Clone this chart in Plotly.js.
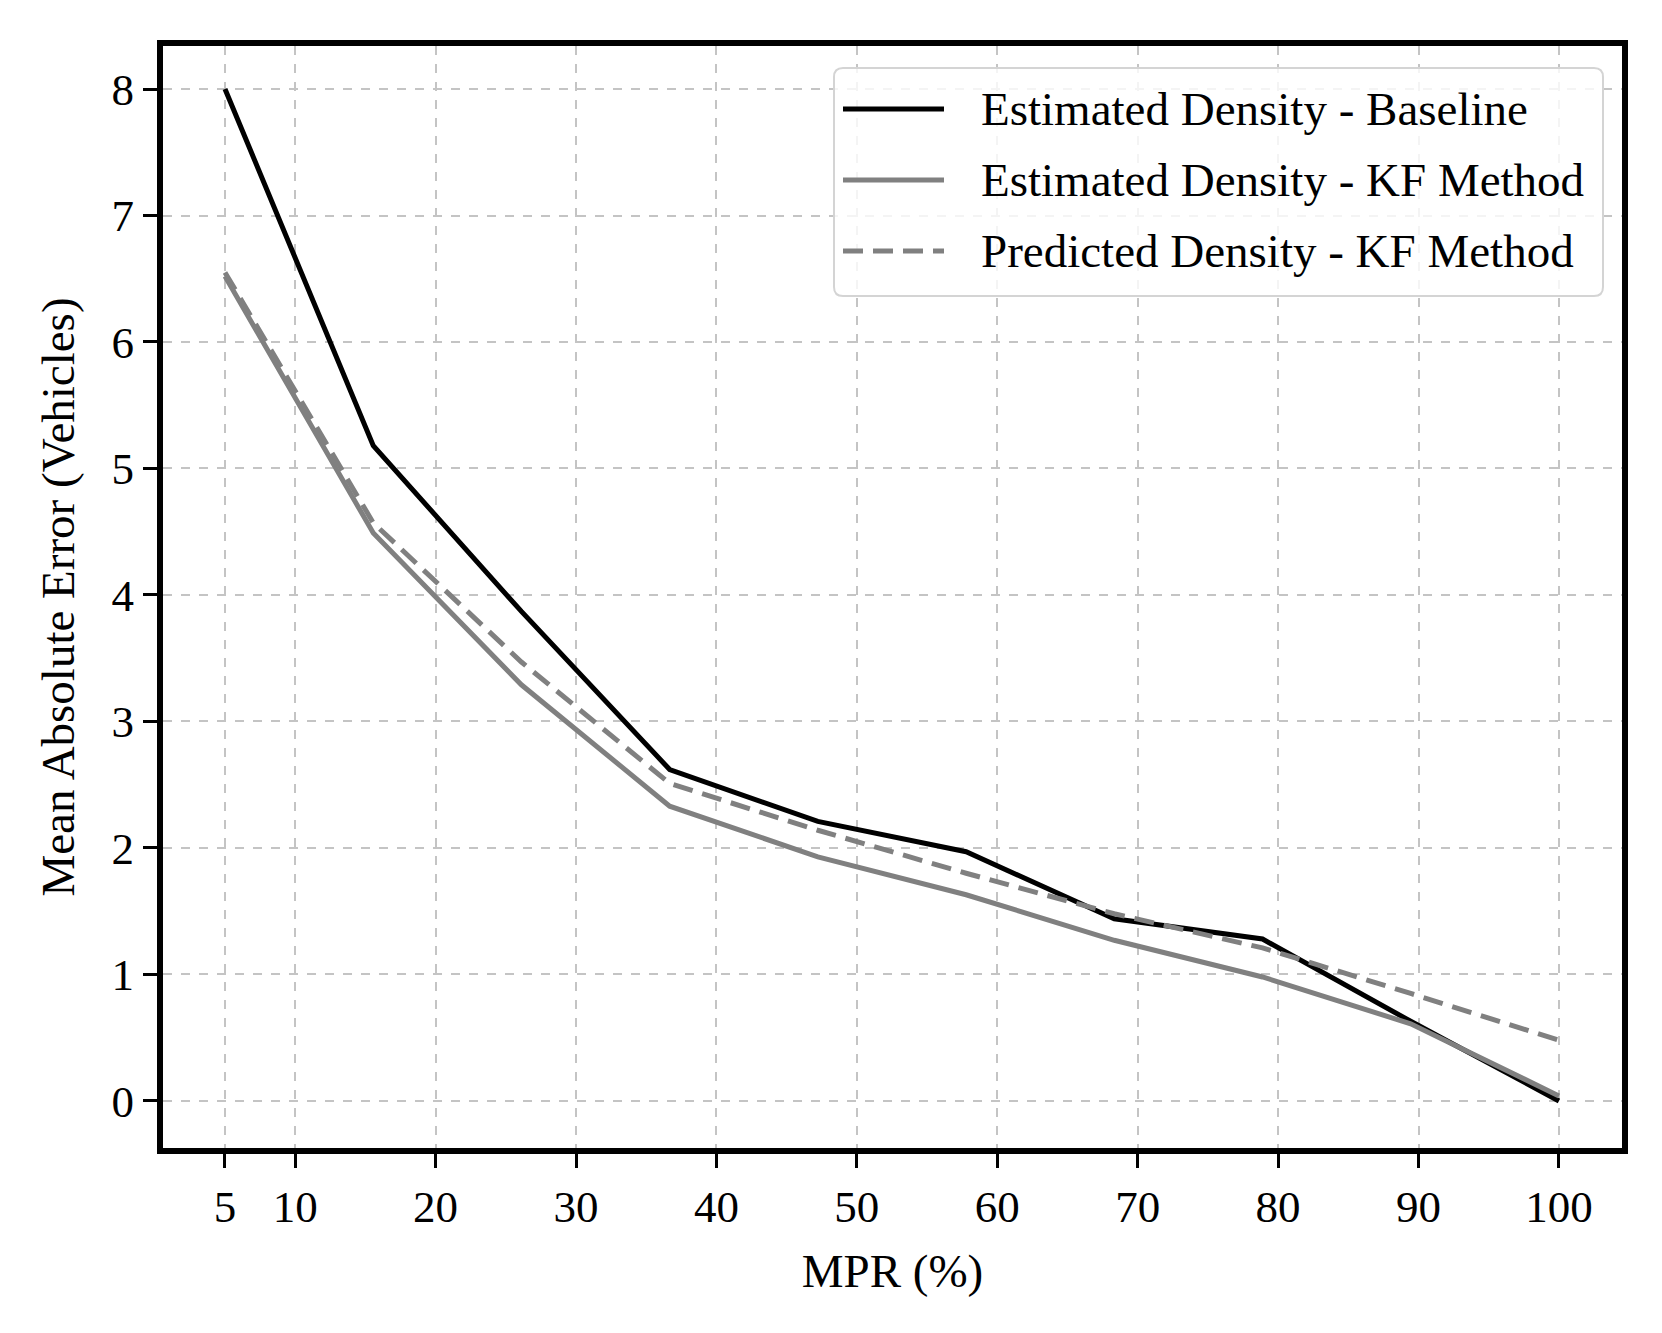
<!DOCTYPE html>
<html>
<head>
<meta charset="utf-8">
<script src="https://cdn.plot.ly/plotly-3.0.1.min.js"></script>
<style>
  html, body { margin: 0; padding: 0; background: #ffffff; }
  #chart { width: 1662px; height: 1333px; }
</style>
</head>
<body>
<div id="chart"></div>
<script>
// ---- data ----
const mpr = [5, 15.56, 26.11, 36.67, 47.22, 57.78, 68.33, 78.89, 89.44, 100];
const baselineEst = [8.0, 5.18, 3.87, 2.62, 2.21, 1.97, 1.44, 1.28, 0.63, 0.0];
const kfEst = [6.52, 4.49, 3.29, 2.33, 1.93, 1.63, 1.27, 0.98, 0.61, 0.04];
const kfPred = [6.55, 4.57, 3.47, 2.51, 2.14, 1.80, 1.48, 1.21, 0.85, 0.48];

const seriesNames = [
  "Estimated Density - Baseline",
  "Estimated Density - KF Method",
  "Predicted Density - KF Method"
];
const xTickVals = [5, 10, 20, 30, 40, 50, 60, 70, 80, 90, 100];
const yTickVals = [0, 1, 2, 3, 4, 5, 6, 7, 8];
const xTitle = "MPR (%)";
const yTitle = "Mean Absolute Error (Vehicles)";

// ---- styles ----
const FONT = '"Liberation Serif", "Times New Roman", "DejaVu Serif", serif';
const seriesStyles = [
  { color: "#000000", width: 5, dash: "solid" },
  { color: "#808080", width: 5, dash: "solid" },
  { color: "#808080", width: 5, dash: "20px,10px" }
];
const seriesY = [baselineEst, kfEst, kfPred];

const traces = seriesY.map((ys, i) => ({
  type: "scatter",
  mode: "lines",
  x: mpr,
  y: ys,
  name: seriesNames[i],
  line: { color: seriesStyles[i].color, width: seriesStyles[i].width, dash: seriesStyles[i].dash },
  showlegend: false,
  hoverinfo: "x+y+name"
}));

// ---- plot area (inner edge; thick spines are drawn just outside) ----
const L = 163, R = 1622, T = 46, B = 1148;
const W = R - L, H = B - T;
const px2x = p => (p - L) / W;
const py2y = p => (B - p) / H;

function roundedRectPath(x0, y0, x1, y1, r) {
  const rx = r / W, ry = r / H;
  const X0 = px2x(x0), X1 = px2x(x1), Y0 = py2y(y0), Y1 = py2y(y1);
  return `M${X0 + rx},${Y0} L${X1 - rx},${Y0} Q${X1},${Y0} ${X1},${Y0 - ry} ` +
         `L${X1},${Y1 + ry} Q${X1},${Y1} ${X1 - rx},${Y1} ` +
         `L${X0 + rx},${Y1} Q${X0},${Y1} ${X0},${Y1 + ry} ` +
         `L${X0},${Y0 - ry} Q${X0},${Y0} ${X0 + rx},${Y0} Z`;
}

// ---- custom legend (matplotlib-like: long line samples, rounded frame) ----
const legendBox = { x0: 834, y0: 68, x1: 1603, y1: 296 };
const legendRows = [109, 180, 251];
const sampleX0 = 843, sampleX1 = 944, textX = 979;

const shapes = [{
  type: "path",
  xref: "paper", yref: "paper",
  path: roundedRectPath(legendBox.x0, legendBox.y0, legendBox.x1, legendBox.y1, 9),
  fillcolor: "rgba(255,255,255,0.82)",
  line: { color: "#d4d4d4", width: 2 },
  layer: "above"
}];
const annotations = [];
seriesNames.forEach((name, i) => {
  const yy = py2y(legendRows[i]);
  shapes.push({
    type: "line", xref: "paper", yref: "paper",
    x0: px2x(sampleX0), x1: px2x(sampleX1), y0: yy, y1: yy,
    line: { color: seriesStyles[i].color, width: 5, dash: seriesStyles[i].dash },
    layer: "above"
  });
  annotations.push({
    xref: "paper", yref: "paper",
    x: px2x(textX), y: yy,
    xanchor: "left", yanchor: "middle",
    text: name, showarrow: false,
    font: { family: FONT, size: 47, color: "#000000" }
  });
});

const axisCommon = {
  showline: true, mirror: true, linecolor: "#000000", linewidth: 6,
  ticks: "outside", ticklen: 14, tickwidth: 2.5, tickcolor: "#000000",
  showgrid: true, gridcolor: "#c4c4c4", gridwidth: 1.6, griddash: "dash",
  zeroline: false,
  tickfont: { family: FONT, size: 45, color: "#000000" }
};

const layout = {
  width: 1662, height: 1333,
  margin: { l: L, r: 1662 - R, t: T, b: 1333 - B },
  paper_bgcolor: "#ffffff", plot_bgcolor: "#ffffff",
  font: { family: FONT, size: 45, color: "#000000" },
  xaxis: Object.assign({}, axisCommon, {
    range: [0.585, 104.49],
    tickmode: "array", tickvals: xTickVals, ticktext: xTickVals.map(String),
    title: { text: xTitle, font: { family: FONT, size: 47, color: "#000000" }, standoff: 25 }
  }),
  yaxis: Object.assign({}, axisCommon, {
    range: [-0.372, 8.34],
    tickmode: "array", tickvals: yTickVals, ticktext: yTickVals.map(String),
    title: { text: yTitle, font: { family: FONT, size: 47, color: "#000000" }, standoff: 24 }
  }),
  showlegend: false,
  shapes: shapes,
  annotations: annotations
};

Plotly.newPlot("chart", traces, layout, { displayModeBar: false });
</script>
</body>
</html>
